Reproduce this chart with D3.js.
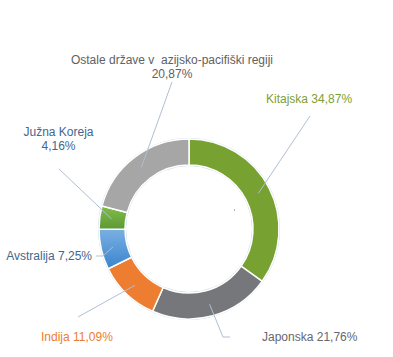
<!DOCTYPE html>
<html>
<head>
<meta charset="utf-8">
<script src="https://cdn.jsdelivr.net/npm/d3@7"></script>
<style>
  html, body { margin: 0; padding: 0; background: #ffffff; }
  svg { display: block; }
  text { white-space: pre; }
</style>
</head>
<body>
<svg id="chart" width="393" height="357"></svg>
<script>
// ---- data ----
const categories = ["Kitajska", "Japonska", "Indija", "Avstralija", "Južna Koreja", "Ostale države v  azijsko-pacifiški regiji"];
const values = [34.87, 21.76, 11.09, 7.25, 4.16, 20.87];
const valueLabels = ["34,87%", "21,76%", "11,09%", "7,25%", "4,16%", "20,87%"];

// ---- styling / layout ----
const fills = ["#77A232", "#76777B", "#ED7D31", "url(#gAus)", "url(#gKor)", "#A6A6A6"];
const textColors = ["#7BA034", "#67676E", "#ED7D31", "#44668F", "#44668F", "#616161"];
const layout = [
  {lx: 310, ly: 116, kx: 310, ky: 116, tx: 266, ty: 103, anchor: "start", split: false},
  {lx: 230, ly: 337, kx: 223, ky: 337, tx: 262, ty: 341, anchor: "start", split: false},
  {lx: 78, ly: 317, kx: 78, ky: 317, tx: 41, ty: 341, anchor: "start", split: false},
  {lx: 96, ly: 256, kx: 103, ky: 256, tx: 92, ty: 260, anchor: "end", split: false},
  {lx: 59, ly: 169, kx: 59, ky: 169, tx: 58.5, ty: 136, anchor: "middle", split: true},
  {lx: 172, ly: 82, kx: 172, ky: 82, tx: 172, ty: 64, anchor: "middle", split: true}
];

const svg = d3.select("#chart");
const cx = 189, cy = 229, rOuter = 90, rInner = 64;

const defs = svg.append("defs");
const gA = defs.append("linearGradient").attr("id", "gAus").attr("x1", 0).attr("y1", 0).attr("x2", 0).attr("y2", 1);
gA.append("stop").attr("offset", "0%").attr("stop-color", "#7AB0E2");
gA.append("stop").attr("offset", "100%").attr("stop-color", "#3A84CE");
const gK = defs.append("linearGradient").attr("id", "gKor").attr("x1", 0).attr("y1", 0).attr("x2", 0).attr("y2", 1);
gK.append("stop").attr("offset", "0%").attr("stop-color", "#80BC4C");
gK.append("stop").attr("offset", "100%").attr("stop-color", "#5E9A33");

const pie = d3.pie().sort(null).value(d => d);
const arcs = pie(values);
const arc = d3.arc().innerRadius(rInner).outerRadius(rOuter);
const lineArc = d3.arc().innerRadius(78).outerRadius(78);

const g = svg.append("g").attr("transform", `translate(${cx},${cy})`);

g.append("circle").attr("r", rOuter + 0.5).attr("fill", "none").attr("stroke", "#C9D6E6").attr("stroke-width", 1);
g.append("circle").attr("r", rInner - 0.5).attr("fill", "none").attr("stroke", "#C9D6E6").attr("stroke-width", 1);

g.selectAll("path.slice")
  .data(arcs)
  .enter().append("path")
  .attr("class", "slice")
  .attr("d", arc)
  .attr("fill", (d, i) => fills[i])
  .attr("stroke", "#ffffff")
  .attr("stroke-width", 1.5);

svg.selectAll("polyline.leader")
  .data(arcs)
  .enter().append("polyline")
  .attr("class", "leader")
  .attr("points", (d, i) => {
    const c = lineArc.centroid(d);
    const L = layout[i];
    return [[L.lx, L.ly], [L.kx, L.ky], [c[0] + cx, c[1] + cy]].map(p => p.join(",")).join(" ");
  })
  .attr("fill", "none")
  .attr("stroke", "#AFBFD2")
  .attr("stroke-width", 1);

const labels = svg.selectAll("text.lbl")
  .data(arcs)
  .enter().append("text")
  .attr("class", "lbl")
  .attr("font-family", "'Liberation Sans', Arial, sans-serif")
  .attr("font-size", 12)
  .attr("fill", (d, i) => textColors[i])
  .attr("text-anchor", (d, i) => layout[i].anchor);

labels.each(function(d, i) {
  const L = layout[i];
  const t = d3.select(this);
  if (L.split) {
    t.append("tspan").attr("x", L.tx).attr("y", L.ty).text(categories[i]);
    t.append("tspan").attr("x", L.tx).attr("y", L.ty + 13.5).text(valueLabels[i]);
  } else {
    t.attr("x", L.tx).attr("y", L.ty).text(categories[i] + " " + valueLabels[i]);
  }
});

svg.append("line").attr("x1", 234.5).attr("x2", 234.5).attr("y1", 209).attr("y2", 211)
  .attr("stroke", "#B0B0B0").attr("stroke-width", 1);
</script>
</body>
</html>
